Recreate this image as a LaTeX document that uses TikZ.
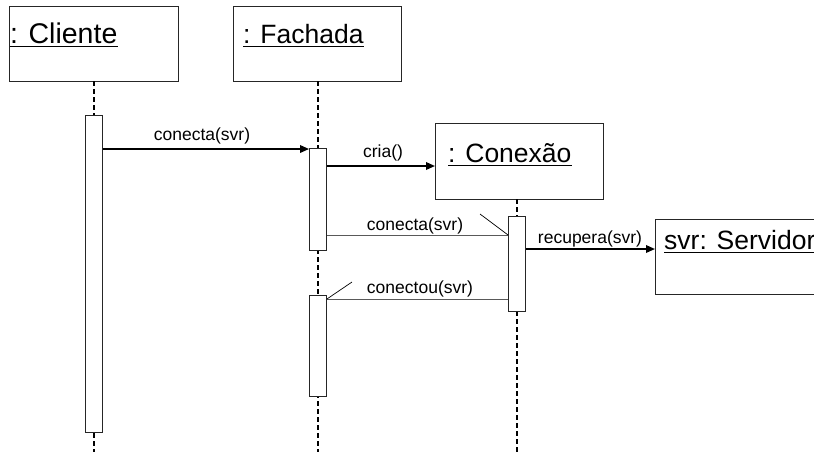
\documentclass[tikz,border=0pt]{standalone}
\usepackage{fontspec}
\setmainfont{Liberation Sans}
\usetikzlibrary{arrows.meta}
\begin{document}
\begin{tikzpicture}[x=1pt,y=-1pt,
  objbox/.style={draw=black!85,line width=0.9pt,fill=white,anchor=north west,inner sep=0pt},
  objtxt/.style={anchor=base west,inner sep=0pt,font=\fontsize{26.5}{30}\selectfont},
  act/.style={draw=black!85,line width=0.9pt,fill=white,minimum width=17pt,inner sep=0pt},
  life/.style={line width=1.8pt,dash pattern=on 5pt off 3pt},
  call/.style={line width=1.8pt,-{Triangle[length=9pt,width=7.5pt]}},
  reply/.style={draw=black!65,line width=0.9pt},
  stick/.style={draw=black,line width=0.7pt},
  lbl/.style={anchor=base,inner sep=0pt,font=\fontsize{17.5}{20}\selectfont}]
\useasboundingbox (0,0) rectangle (814,451);
% objects
\node[objbox,minimum width=169pt,minimum height=75pt] (cli) at (9,6) {};
\node[objbox,minimum width=168pt,minimum height=75pt] (fac) at (233,6) {};
\node[objbox,minimum width=168pt,minimum height=76pt] (con) at (435,123) {};
\node[objbox,minimum width=180pt,minimum height=75pt] (srv) at (655,219) {};
\node[objtxt,font=\fontsize{28.5}{32}\selectfont] (tcli) at (10,43) {: Cliente};
\node[objtxt] (tfac) at (243,43) {: Fachada};
\node[objtxt] (tcon) at (448,162) {: Conexão};
\node[objtxt] (tsrv) at (664,249) {svr: Servidor};
\foreach \t in {tcli,tfac,tcon,tsrv}
  \draw[line width=1.6pt] ([yshift=-3.5pt]\t.base west) -- ([yshift=-3.5pt]\t.base east);
% lifelines
\draw[life] (94,81) -- (94,455);
\draw[life] (318,81) -- (318,455);
\draw[life] (517,199) -- (517,455);
% activations
\node[act,minimum height=317pt] (a1) at (94,273.5) {};
\node[act,minimum height=102pt] (f1) at (318,199) {};
\node[act,minimum height=101pt] (f2) at (318,345.5) {};
\node[act,minimum height=95pt] (c1) at (517,263.5) {};
% messages
\coordinate (m1) at (0,149);
\coordinate (m2) at (0,166);
\coordinate (m3) at (0,235);
\coordinate (m4) at (0,249);
\coordinate (m5) at (0,299);
\draw[call] (a1.east |- m1) -- (f1.west |- m1);
\node[lbl] (l1) at (202,140) {conecta(svr)};
\draw[call] (f1.east |- m2) -- (con.west |- m2);
\node[lbl] (l2) at (383,157) {cria()};
\draw[reply] (f1.east |- m3) -- (c1.west |- m3);
\coordinate (s3) at (480,214);
\draw[stick] (c1.west |- m3) -- (s3);
\node[lbl] (l3) at (415,230) {conecta(svr)};
\draw[call] (c1.east |- m4) -- (srv.west |- m4);
\node[lbl] (l4) at (590,243) {recupera(svr)};
\draw[reply] (c1.west |- m5) -- (f2.east |- m5);
\coordinate (s5) at (352,282);
\draw[stick] (f2.east |- m5) -- (s5);
\node[lbl] (l5) at (420,293) {conectou(svr)};
\end{tikzpicture}
\end{document}
